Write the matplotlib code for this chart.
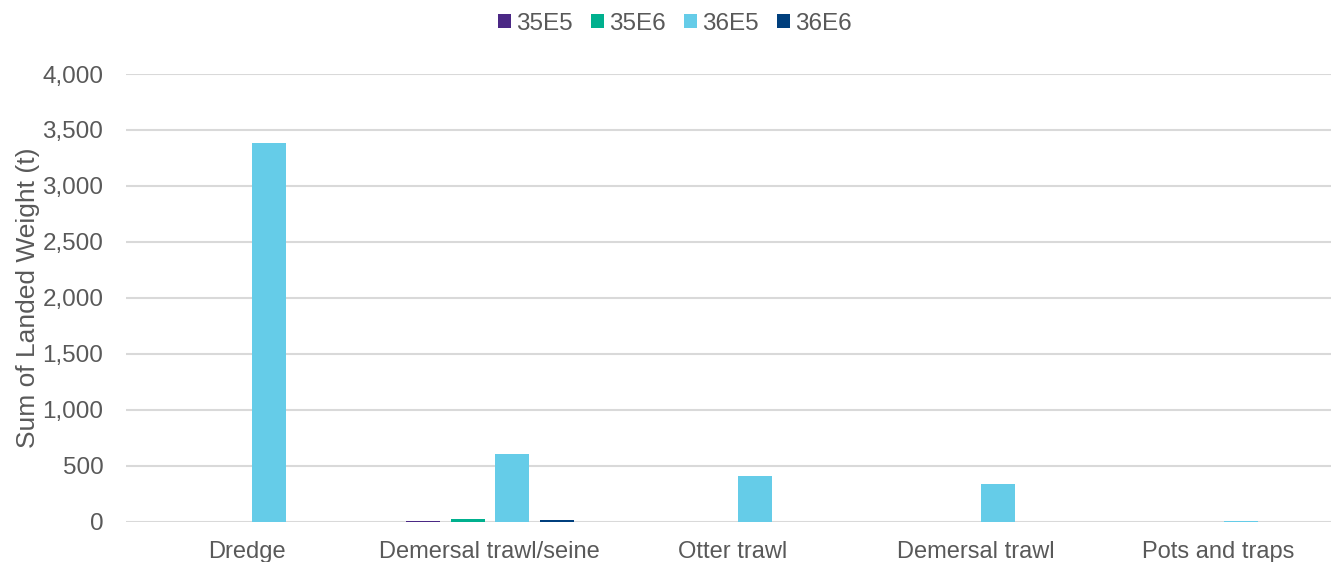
import matplotlib
matplotlib.use("Agg")
import matplotlib.pyplot as plt
import matplotlib.ticker as ticker
import numpy as np

# data
gears = ["Dredge", "Demersal trawl/seine", "Otter trawl", "Demersal trawl", "Pots and traps"]
rects = ["35E5", "35E6", "36E5", "36E6"]
w_35E5 = [1, 10, 0, 0, 0]
w_35E6 = [1, 20, 0, 0, 0]
w_36E5 = [3381, 605, 406, 337, 2]
w_36E6 = [0, 15, 0, 0, 0]
colors = ["#4B2885", "#00B08E", "#65CCE8", "#003F7D"]

plt.rcParams["font.family"] = ["Liberation Sans", "DejaVu Sans"]
txt = "#595959"

fig = plt.figure(figsize=(13.31, 5.62), dpi=100)
ax = fig.add_axes([0.0943, 0.0717, 0.9125, 0.7966])

x = np.arange(len(gears))
step = 0.183
width = 0.14
for i, (vals, name) in enumerate(zip([w_35E5, w_35E6, w_36E5, w_36E6], rects)):
    ax.bar(x + (i - 1.5) * step, vals, width, color=colors[i], label=name, zorder=3)

ax.set_xlim(-0.5, len(gears) - 0.5)
ax.set_ylim(0, 4000)
ax.yaxis.set_major_locator(ticker.MultipleLocator(500))
ax.yaxis.set_major_formatter(ticker.StrMethodFormatter("{x:,.0f}"))
ax.set_xticks(x)
ax.set_xticklabels(gears)
ax.tick_params(axis="both", length=0, colors=txt)
ax.tick_params(axis="y", pad=16, labelsize=17.5)
ax.tick_params(axis="x", pad=14, labelsize=17)
ax.grid(axis="y", color="#D9D9D9", linewidth=1.5, zorder=0)
for s in ax.spines.values():
    s.set_visible(False)

ax.set_ylabel("Sum of Landed Weight (t)", fontsize=19, color=txt, labelpad=2)

leg = fig.legend(loc="center", bbox_to_anchor=(0.507, 0.958), ncol=4, frameon=False,
                 fontsize=17.5, handlelength=0.55, handleheight=0.55, handletextpad=0.2,
                 columnspacing=0.75)
for t in leg.get_texts():
    t.set_color(txt)

fig.savefig("out.png", dpi=100)
